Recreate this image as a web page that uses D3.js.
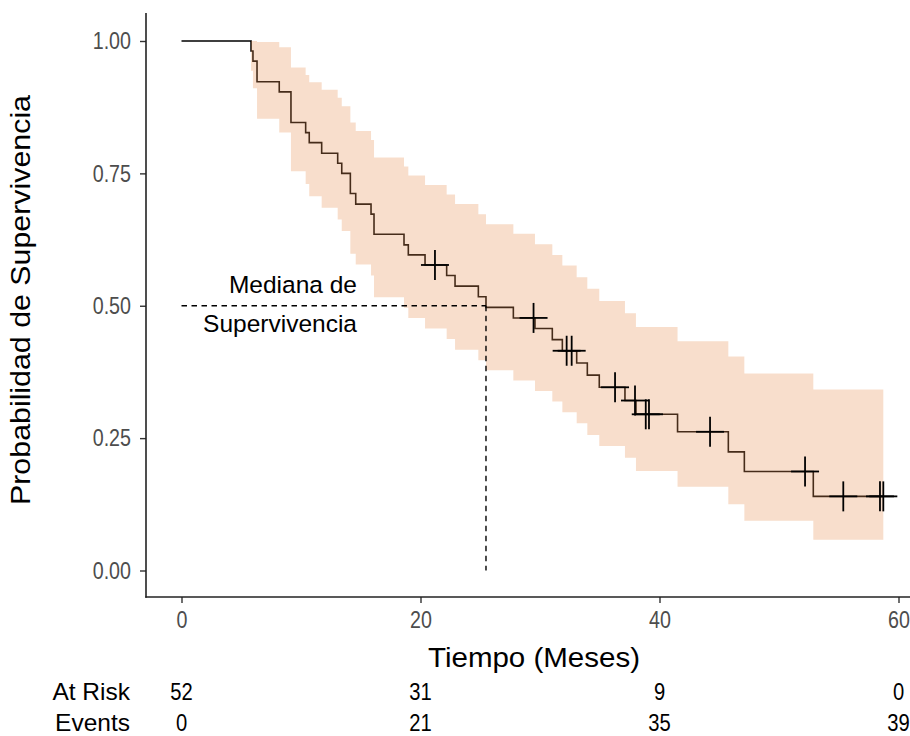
<!DOCTYPE html>
<html>
<head>
<meta charset="utf-8">
<script src="https://cdn.jsdelivr.net/npm/d3@7"></script>
<style>
  html, body { margin: 0; padding: 0; background: #fff; }
  svg { display: block; font-family: "Liberation Sans", Arial, sans-serif; }
</style>
</head>
<body>
<svg id="chart" width="910" height="736"></svg>
<script>
// ---- data ----
const stepTimes = [0, 5.82, 5.98, 6.32, 8.18, 9.16, 10.39, 10.69, 11.73, 13.07, 13.41, 14.13, 14.58, 15.86, 16.11, 18.62, 18.98, 20.38, 22.19, 22.89, 24.84, 25.48, 27.77, 29.58, 31.03, 31.87, 33.07, 33.96, 34.96, 37.11, 38.03, 41.51, 45.76, 47.10, 52.87, 58.73];
const survival = [1, 0.981, 0.962, 0.923, 0.904, 0.846, 0.827, 0.808, 0.788, 0.769, 0.750, 0.712, 0.692, 0.673, 0.635, 0.615, 0.596, 0.577, 0.557, 0.537, 0.517, 0.497, 0.477, 0.457, 0.436, 0.415, 0.392, 0.369, 0.346, 0.321, 0.295, 0.262, 0.224, 0.187, 0.140, 0.140];
const lowerCI = [1, 0.944, 0.911, 0.853, 0.827, 0.754, 0.730, 0.707, 0.685, 0.663, 0.641, 0.598, 0.578, 0.557, 0.516, 0.496, 0.477, 0.457, 0.437, 0.417, 0.397, 0.378, 0.359, 0.339, 0.319, 0.299, 0.278, 0.256, 0.235, 0.213, 0.188, 0.158, 0.125, 0.094, 0.058, 0.058];
const upperCI = [1, 1, 1, 0.998, 0.988, 0.950, 0.936, 0.922, 0.908, 0.893, 0.877, 0.846, 0.830, 0.813, 0.780, 0.763, 0.746, 0.728, 0.710, 0.692, 0.673, 0.654, 0.636, 0.616, 0.596, 0.576, 0.554, 0.532, 0.509, 0.486, 0.460, 0.433, 0.404, 0.372, 0.342, 0.342];
const censorTimes = [21.21, 29.46, 32.23, 32.65, 36.28, 37.95, 38.85, 39.12, 44.23, 52.18, 55.38, 58.45, 58.73];
const censorSurv  = [0.577, 0.477, 0.415, 0.415, 0.346, 0.321, 0.295, 0.295, 0.262, 0.187, 0.140, 0.140, 0.140];
const medianTime = 25.48;
const medianSurv = 0.5;
const xTicks = [0, 20, 40, 60];
const yTicks = [0, 0.25, 0.5, 0.75, 1];
const riskTimes = [0, 20, 40, 60];
const atRisk = [52, 31, 9, 0];
const events = [0, 21, 35, 39];
const riskLabels = ["At Risk", "Events"];

// ---- layout ----
const svg = d3.select("#chart");
const x = d3.scaleLinear().domain([0, 60]).range([181.5, 898.5]);
const y = d3.scaleLinear().domain([0, 1]).range([570.5, 41]);
const xLeft = 146, yBottom = 597, yTop = 13, xRight = 910;
const tickCol = "#4D4D4D";
const tickSquash = 0.82;
const riskSquash = 0.86;

const steps = stepTimes.map((t, i) => ({ t, s: survival[i], lo: lowerCI[i], hi: upperCI[i] }));

// survival line (below the ribbon, like the reference)
const line = d3.line().curve(d3.curveStepAfter).x(d => x(d.t)).y(d => y(d.s));
svg.append("path").datum(steps)
  .attr("d", line).attr("fill", "none")
  .attr("stroke", "#000").attr("stroke-width", 1.6);

// confidence ribbon
const area = d3.area().curve(d3.curveStepAfter)
  .x(d => x(d.t)).y0(d => y(d.lo)).y1(d => y(d.hi));
svg.append("path").datum(steps)
  .attr("d", area).attr("fill", "#E89155").attr("fill-opacity", 0.3);

// censor marks
const cg = svg.append("g").attr("stroke", "#000").attr("stroke-width", 1.8);
censorTimes.forEach((t, i) => {
  const cx = x(t), cy = y(censorSurv[i]);
  cg.append("line").attr("x1", cx - 14).attr("x2", cx + 14).attr("y1", cy).attr("y2", cy);
  cg.append("line").attr("x1", cx).attr("x2", cx).attr("y1", cy - 15).attr("y2", cy + 15);
});

// median lines
const dg = svg.append("g").attr("stroke", "#000").attr("stroke-width", 1.4).attr("stroke-dasharray", "5.5,4.5");
dg.append("line").attr("x1", x(0)).attr("x2", x(medianTime)).attr("y1", y(medianSurv)).attr("y2", y(medianSurv));
dg.append("line").attr("x1", x(medianTime)).attr("x2", x(medianTime)).attr("y1", y(medianSurv)).attr("y2", y(0));

// annotation
const ann = svg.append("g").attr("font-size", 24.5).attr("fill", "#000").attr("text-anchor", "end");
ann.append("text").attr("x", 357).attr("y", 293).text("Mediana de");
ann.append("text").attr("x", 357).attr("y", 332).text("Supervivencia");

// axes
const yAxis = d3.axisLeft(y).tickValues(yTicks).tickFormat(d3.format(".2f")).tickSize(6);
const gy = svg.append("g").attr("transform", `translate(${xLeft},0)`).call(yAxis);
const xAxis = d3.axisBottom(x).tickValues(xTicks).tickFormat(d3.format("d")).tickSize(6).tickPadding(8);
const gx = svg.append("g").attr("transform", `translate(0,${yBottom})`).call(xAxis);
[gx, gy].forEach(g => {
  g.select(".domain").remove();
  g.selectAll(".tick line").attr("stroke", "#333").attr("stroke-width", 1.4);
  g.selectAll(".tick text").attr("fill", tickCol).attr("font-size", 24)
    .attr("font-family", "'Liberation Sans', Arial, sans-serif")
    .attr("transform", `scale(${tickSquash},1)`);
});
gy.selectAll(".tick text").attr("x", -15 / tickSquash);
svg.append("line").attr("x1", xLeft).attr("x2", xLeft).attr("y1", yTop).attr("y2", yBottom + 0.7)
  .attr("stroke", "#222").attr("stroke-width", 1.6);
svg.append("line").attr("x1", xLeft - 0.7).attr("x2", xRight).attr("y1", yBottom).attr("y2", yBottom)
  .attr("stroke", "#222").attr("stroke-width", 1.6);

// axis titles
svg.append("text").attr("x", 534).attr("y", 667).attr("text-anchor", "middle")
  .attr("font-size", 27).attr("fill", "#000")
  .attr("textLength", 212).attr("lengthAdjust", "spacingAndGlyphs").text("Tiempo (Meses)");
svg.append("text").attr("transform", `translate(30,300) rotate(-90)`).attr("text-anchor", "middle")
  .attr("font-size", 27).attr("fill", "#000")
  .attr("textLength", 410).attr("lengthAdjust", "spacingAndGlyphs").text("Probabilidad de Supervivencia");

// risk table
const rt = svg.append("g").attr("font-size", 23.5).attr("fill", "#000");
const rowY = [700, 730.5];
riskLabels.forEach((lab, r) => {
  rt.append("text").attr("x", 130).attr("y", rowY[r]).attr("text-anchor", "end")
    .attr("font-size", 24.5).text(lab);
});
riskTimes.forEach((t, i) => {
  [atRisk[i], events[i]].forEach((v, r) => {
    rt.append("text")
      .attr("transform", `translate(${x(t)},${rowY[r]}) scale(${riskSquash},1)`)
      .attr("text-anchor", "middle").text(v);
  });
});
</script>
</body>
</html>
